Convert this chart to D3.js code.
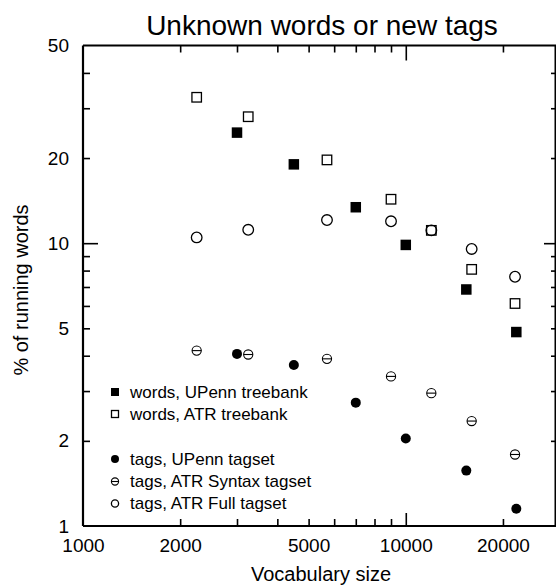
<!DOCTYPE html>
<html><head><meta charset="utf-8">
<script src="https://cdn.jsdelivr.net/npm/d3@7"></script>
<style>
html,body{margin:0;padding:0;background:#fff;}
svg{display:block;font-family:"Liberation Sans",Arial,Helvetica,sans-serif;}
</style></head>
<body><svg id="c" width="556" height="586"></svg>
<script>
// ---- data ----
const upennX = [3000, 4500, 7000, 10000, 15400, 22000];
const atrX   = [2250, 3250, 5700, 9000, 12000, 16000, 21800];
const upennWords = [24.6, 19.0, 13.4, 9.86, 6.86, 4.85];
const atrWords   = [32.8, 28.0, 19.7, 14.3, 11.1, 8.08, 6.12];
const upennTags  = [4.06, 3.71, 2.73, 2.04, 1.57, 1.15];
const atrSyntaxTags = [4.17, 4.04, 3.90, 3.38, 2.95, 2.35, 1.79];
const atrFullTags   = [10.48, 11.15, 12.07, 11.95, 11.1, 9.54, 7.61];
const xLabelTicks = [1000, 2000, 5000, 10000, 20000];
const xMinorTicks = [2000, 3000, 4000, 5000, 6000, 7000, 8000, 9000, 20000];
const xMajorTicks = [10000];
const yLabelTicks = [1, 2, 5, 10, 20, 50];
const yMinorTicks = [2, 3, 4, 5, 6, 7, 8, 9, 20, 30, 40];
const yMajorTicks = [10];
const legendLabels = ["words, UPenn treebank", "words, ATR treebank", "tags, UPenn tagset", "tags, ATR Syntax tagset", "tags, ATR Full tagset"];
const title = "Unknown words or new tags";
const xTitle = "Vocabulary size";
const yTitle = "% of running words";

// ---- chart ----
const svg = d3.select("#c");
const L = 83, R = 556, T = 45.5, B = 526;
const x = d3.scaleLog().domain([1000, 29200]).range([L, R]);
const y = d3.scaleLog().domain([1, 50]).range([B, T]);

function styleAxis(g){
  g.selectAll("path.domain").remove();
  g.selectAll("line").attr("stroke","#000").attr("stroke-width",1.6);
  g.selectAll("text").attr("fill","#000");
}
// tick groups
const fmt = d3.format("d");
// bottom
svg.append("g").attr("transform",`translate(0,${B})`).call(d3.axisBottom(x).tickValues(xMinorTicks).tickSize(-7).tickSizeOuter(0).tickFormat("")).call(styleAxis);
svg.append("g").attr("transform",`translate(0,${B})`).call(d3.axisBottom(x).tickValues(xMajorTicks).tickSize(-13).tickSizeOuter(0).tickFormat("")).call(styleAxis);
svg.append("g").attr("transform",`translate(0,${B})`).call(d3.axisBottom(x).tickValues(xLabelTicks).tickSize(0).tickPadding(13).tickSizeOuter(0).tickFormat(fmt))
  .call(styleAxis).selectAll("text").attr("font-size",19).attr("font-family","Liberation Sans, Arial, sans-serif");
// top
svg.append("g").attr("transform",`translate(0,${T})`).call(d3.axisTop(x).tickValues(xMinorTicks).tickSize(-7).tickSizeOuter(0).tickFormat("")).call(styleAxis);
svg.append("g").attr("transform",`translate(0,${T})`).call(d3.axisTop(x).tickValues(xMajorTicks).tickSize(-15).tickSizeOuter(0).tickFormat("")).call(styleAxis);
// left
svg.append("g").attr("transform",`translate(${L},0)`).call(d3.axisLeft(y).tickValues(yMinorTicks).tickSize(-7).tickSizeOuter(0).tickFormat("")).call(styleAxis);
svg.append("g").attr("transform",`translate(${L},0)`).call(d3.axisLeft(y).tickValues(yMajorTicks).tickSize(-15).tickSizeOuter(0).tickFormat("")).call(styleAxis);
svg.append("g").attr("transform",`translate(${L},0)`).call(d3.axisLeft(y).tickValues(yLabelTicks).tickSize(0).tickPadding(14).tickSizeOuter(0).tickFormat(fmt))
  .call(styleAxis).selectAll("text").attr("font-size",19).attr("font-family","Liberation Sans, Arial, sans-serif");
// right
svg.append("g").attr("transform",`translate(${R},0)`).call(d3.axisRight(y).tickValues(yMinorTicks).tickSize(-5).tickSizeOuter(0).tickFormat("")).call(styleAxis);
svg.append("g").attr("transform",`translate(${R},0)`).call(d3.axisRight(y).tickValues(yMajorTicks).tickSize(-12).tickSizeOuter(0).tickFormat("")).call(styleAxis);

// frame lines
svg.append("line").attr("x1",L).attr("x2",L).attr("y1",T).attr("y2",B).attr("stroke","#000").attr("stroke-width",2.2);
svg.append("line").attr("x1",L).attr("x2",R).attr("y1",B).attr("y2",B).attr("stroke","#000").attr("stroke-width",2.2);
svg.append("line").attr("x1",L).attr("x2",R).attr("y1",T).attr("y2",T).attr("stroke","#000").attr("stroke-width",2);
svg.append("line").attr("x1",R-0.5).attr("x2",R-0.5).attr("y1",T).attr("y2",B).attr("stroke","#000").attr("stroke-width",2);

// markers
function filledSquare(g, cx, cy, s){ g.append("rect").attr("x",cx-s/2).attr("y",cy-s/2).attr("width",s).attr("height",s).attr("fill","#000"); }
function openSquare(g, cx, cy, s){ g.append("rect").attr("x",cx-s/2).attr("y",cy-s/2).attr("width",s).attr("height",s).attr("fill","none").attr("stroke","#000").attr("stroke-width",1.3); }
function filledCircle(g, cx, cy, r){ g.append("circle").attr("cx",cx).attr("cy",cy).attr("r",r).attr("fill","#000"); }
function openCircle(g, cx, cy, r){ g.append("circle").attr("cx",cx).attr("cy",cy).attr("r",r).attr("fill","none").attr("stroke","#000").attr("stroke-width",1.3); }
function thetaCircle(g, cx, cy, r){
  g.append("circle").attr("cx",cx).attr("cy",cy).attr("r",r).attr("fill","none").attr("stroke","#000").attr("stroke-width",1.1);
  g.append("line").attr("x1",cx-r).attr("x2",cx+r).attr("y1",cy).attr("y2",cy).attr("stroke","#000").attr("stroke-width",1.1);
}
const series = [
  {xs: atrX,   ys: atrFullTags,   draw: (g,a,b)=>openCircle(g,a,b,5.3), leg: (g,a,b)=>openCircle(g,a,b,3.6)},
  {xs: atrX,   ys: atrWords,      draw: (g,a,b)=>openSquare(g,a,b,9.5), leg: (g,a,b)=>openSquare(g,a,b,7)},
  {xs: upennX, ys: upennWords,    draw: (g,a,b)=>filledSquare(g,a,b,10.5), leg: (g,a,b)=>filledSquare(g,a,b,8)},
  {xs: upennX, ys: upennTags,     draw: (g,a,b)=>filledCircle(g,a,b,5), leg: (g,a,b)=>filledCircle(g,a,b,4)},
  {xs: atrX,   ys: atrSyntaxTags, draw: (g,a,b)=>thetaCircle(g,a,b,4.6), leg: (g,a,b)=>thetaCircle(g,a,b,3.6)}
];
const pts = svg.append("g");
series.forEach(s => s.ys.forEach((v,i) => s.draw(pts, x(s.xs[i]), y(v))));

// legend
const legOrder = [2, 1, 3, 4, 0];
const legY = [392, 414, 459, 481.5, 503.5];
const lg = svg.append("g");
legOrder.forEach((si, i) => {
  series[si].leg(lg, 115, legY[i]);
  lg.append("text").attr("x",130).attr("y",legY[i]).attr("dy","0.35em").attr("font-size",17).text(legendLabels[i]);
});

// titles
svg.append("text").attr("x",322).attr("y",35).attr("text-anchor","middle").attr("font-size",28).text(title);
svg.append("text").attr("x",321).attr("y",581).attr("text-anchor","middle").attr("font-size",20).text(xTitle);
svg.append("text").attr("transform","translate(28,290) rotate(-90)").attr("text-anchor","middle").attr("font-size",20).text(yTitle);
</script></body></html>
